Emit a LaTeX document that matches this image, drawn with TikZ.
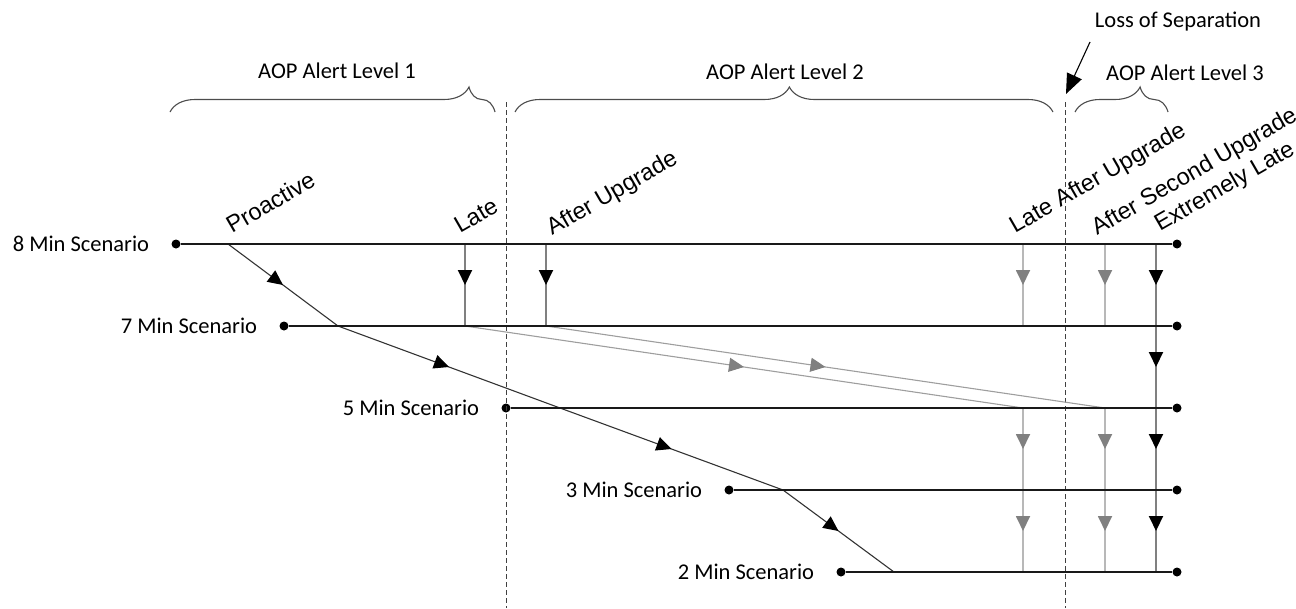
\documentclass[tikz,border=0pt]{standalone}
\usepackage{fontspec}
\setmainfont{Carlito}
\newfontfamily\tagfont{Liberation Sans}
\usetikzlibrary{arrows.meta,positioning,decorations.pathreplacing,decorations.markings}

\begin{document}
\begin{tikzpicture}[
  x=1pt, y=-1pt,
  dot/.style={circle, fill=black, inner sep=0pt, minimum size=9pt},
  scen/.style={font=\fontsize{22.5}{27}\selectfont, inner sep=0pt},
  lvl/.style={font=\fontsize{22.5}{27}\selectfont, inner sep=0pt, anchor=base},
  tag/.style={font=\tagfont\fontsize{23.5}{28}\selectfont, inner sep=0pt,
              anchor=base west, rotate=30},
  track/.style={line width=2.5pt, black!90},
  sep/.style={dash pattern=on 5pt off 3pt, line width=0.9pt, black!75},
  brc/.style={decorate, decoration={brace, amplitude=25pt, aspect=#1},
              line width=1.1pt, black!70},
  midtip/.style={decoration={markings, mark=at position 0.5 with
                 {\arrow{Triangle[length=15pt,width=14pt,#1]}}},
                 postaction={decorate}},
  pro/.style={line width=1.1pt, black!80, midtip={color=black}},
  drop/.style={line width=2pt, black!50, midtip={color=black}},
  fade/.style={line width=1.8pt, black!28, midtip={color=black!50}},
  slant/.style={line width=1.1pt, black!38, midtip={color=black!50}}
]
\useasboundingbox (0,0) rectangle (1296,608);

% scenario tracks
\node[dot] (s8w) at (176,244) {};
\node[dot] (s8e) at (1177,244) {};
\node[dot] (s7w) at (284,326) {};
\node[dot] (s7e) at (1177,326) {};
\node[dot] (s5w) at (506,408) {};
\node[dot] (s5e) at (1177,408) {};
\node[dot] (s3w) at (729,490) {};
\node[dot] (s3e) at (1177,490) {};
\node[dot] (s2w) at (841,572) {};
\node[dot] (s2e) at (1177,572) {};
\node[scen, left=22pt of s8w] (l8) {8 Min Scenario};
\node[scen, left=22pt of s7w] (l7) {7 Min Scenario};
\node[scen, left=22pt of s5w] (l5) {5 Min Scenario};
\node[scen, left=22pt of s3w] (l3) {3 Min Scenario};
\node[scen, left=22pt of s2w] (l2) {2 Min Scenario};

% alert levels
\coordinate (sep1t) at (506,102);
\coordinate (sep1b) at (506,608);
\coordinate (sep2t) at (1065,102);
\coordinate (sep2b) at (1065,608);
\draw[sep] (sep1t) -- (sep1b);
\draw[sep] (sep2t) -- (sep2b);
\coordinate (b1w) at (170,112);
\coordinate (b1e) at (495,112);
\coordinate (b2w) at (515,112);
\coordinate (b2e) at (1053,112);
\coordinate (b3w) at (1075,112);
\coordinate (b3e) at (1168,112);
\draw[brc=0.92] (b1w) -- (b1e);
\draw[brc=0.51] (b2w) -- (b2e);
\draw[brc=0.70] (b3w) -- (b3e);
\node[lvl] (lvl1) at (337,78) {AOP Alert Level 1};
\node[lvl] (lvl2) at (785,79) {AOP Alert Level 2};
\node[lvl] (lvl3) at (1185,80) {AOP Alert Level 3};
\node[lvl] (loss) at (1178,27) {Loss of Separation};
\coordinate (losstail) at (1090,42);
\coordinate (losstip) at (1066,94);
\draw[line width=1.1pt, -{Triangle[length=20pt,width=16pt]}] (losstail) -- (losstip);

% crossing points
\coordinate (pro8) at (228,244);
\coordinate (pro7) at (338,326);
\coordinate (pro5) at (560,408);
\coordinate (pro3) at (783,490);
\coordinate (pro2) at (894,572);
\coordinate (late8) at (465,244);
\coordinate (late7) at (465,326);
\coordinate (late5) at (1023,408);
\coordinate (late3) at (1023,490);
\coordinate (late2) at (1023,572);
\coordinate (up8) at (546,244);
\coordinate (up7) at (546,326);
\coordinate (up5) at (1105,408);
\coordinate (up3) at (1105,490);
\coordinate (up2) at (1105,572);
\coordinate (lau8) at (1023,244);
\coordinate (lau7) at (1023,326);
\coordinate (asu8) at (1105,244);
\coordinate (asu7) at (1105,326);
\coordinate (xl8) at (1156,244);
\coordinate (xl7) at (1156,326);
\coordinate (xl5) at (1156,408);
\coordinate (xl3) at (1156,490);
\coordinate (xl2) at (1156,572);

% transitions
\draw[pro] (pro8) -- (pro7);
\draw[pro] (pro7) -- (pro5);
\draw[pro] (pro5) -- (pro3);
\draw[pro] (pro3) -- (pro2);
\draw[drop] (late8) -- (late7);
\draw[slant] (late7) -- (late5);
\draw[fade] (late5) -- (late3);
\draw[fade] (late3) -- (late2);
\draw[drop] (up8) -- (up7);
\draw[slant] (up7) -- (up5);
\draw[fade] (up5) -- (up3);
\draw[fade] (up3) -- (up2);
\draw[fade] (lau8) -- (lau7);
\draw[fade] (asu8) -- (asu7);
\draw[drop] (xl8) -- (xl7);
\draw[drop] (xl7) -- (xl5);
\draw[drop] (xl5) -- (xl3);
\draw[drop] (xl3) -- (xl2);

\draw[track] (s8w) -- (s8e);
\draw[track] (s7w) -- (s7e);
\draw[track] (s5w) -- (s5e);
\draw[track] (s3w) -- (s3e);
\draw[track] (s2w) -- (s2e);

% timing tags
\node[tag] (tpro) at (232,234) {Proactive};
\node[tag] (tlate) at (460,234) {Late};
\node[tag] (tup) at (552,236) {After Upgrade};
\node[tag] (tlau) at (1015,234) {Late After Upgrade};
\node[tag] (tasu) at (1097,236) {After Second Upgrade};
\node[tag] (txl) at (1160,232) {Extremely Late};
\end{tikzpicture}
\end{document}
